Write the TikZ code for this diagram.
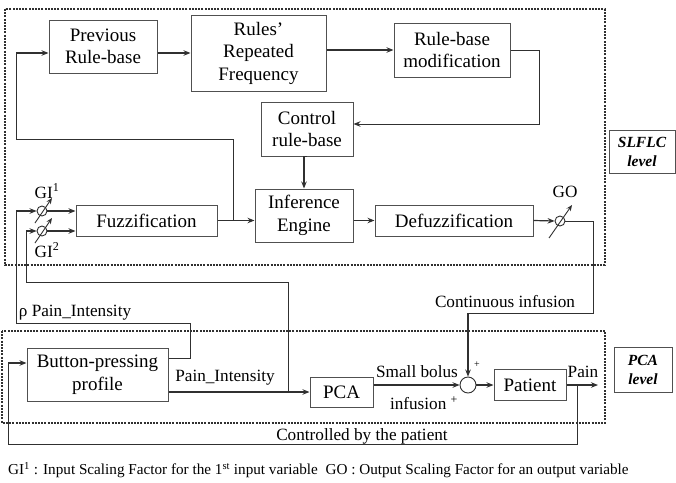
\documentclass[tikz,border=0pt]{standalone}
\usepackage{fontspec}
\setmainfont{Liberation Serif}
\usetikzlibrary{arrows.meta}
\definecolor{boxc}{HTML}{505050}
\definecolor{linec}{HTML}{303030}
\begin{document}
\begin{tikzpicture}[x=1pt,y=-1pt,
  blk/.style={draw=boxc, line width=1pt, align=center, inner sep=0pt, font=\fontsize{19}{22.5}\selectfont},
  lvl/.style={draw=boxc, line width=1pt, align=center, inner sep=0pt, font=\fontsize{15.5}{19}\selectfont\bfseries\itshape},
  ln/.style={draw=linec, line width=1.2pt},
  thn/.style={draw=linec, line width=0.9pt},
  arr/.style={-{Stealth[length=7pt,width=5.5pt]}},
  dashbox/.style={draw=linec, line width=1.2pt, dash pattern=on 2pt off 1.2pt},
  gain/.style={circle, draw=linec, line width=0.9pt, minimum size=10pt, inner sep=0pt},
  lbl/.style={inner sep=0pt, font=\fontsize{17.2}{20}\selectfont},
  sml/.style={inner sep=0pt, font=\fontsize{10}{12}\selectfont}
]
\useasboundingbox (0,0) rectangle (676,482);
\fill[white] (0,0) rectangle (676,482);

% dashed level boxes
\draw[dashbox] (5,9) rectangle (605,265);
\draw[dashbox] (2,331) rectangle (605,423);

% blocks
\node[blk, minimum width=108pt, minimum height=53pt] (prev) at (103,46.5) {Previous\\Rule-base};
\node[blk, minimum width=135pt, minimum height=76pt] (rrf) at (258.5,53) {Rules’\\Repeated\\Frequency};
\node[blk, minimum width=116pt, minimum height=54pt] (rbm) at (452,50) {Rule-base\\modification};
\node[blk, minimum width=92pt, minimum height=54pt] (crb) at (307,129) {Control\\rule-base};
\node[blk, minimum width=98pt, minimum height=53pt] (inf) at (304,215.5) {Inference\\Engine};
\node[blk, minimum width=141pt, minimum height=31pt] (fuzz) at (146.5,220.5) {Fuzzification};
\node[blk, minimum width=158pt, minimum height=31pt] (defuzz) at (454,220.5) {Defuzzification};
\node[lvl, minimum width=66pt, minimum height=43pt] (slflc) at (642,151.5) {SLFLC\\level};

\node[blk, minimum width=141pt, minimum height=53pt] (button) at (97.5,374.5) {Button-pressing\\profile};
\node[blk, minimum width=63pt, minimum height=30pt] (pca) at (341.5,392) {PCA};
\node[blk, minimum width=72pt, minimum height=31pt] (patient) at (530,385) {Patient};
\node[lvl, minimum width=58pt, minimum height=45pt] (pcalvl) at (643,369.5) {PCA\\level};

% gains and summing point
\node[gain] (gi1) at (42,211) {};
\node[gain] (gi2) at (42,231) {};
\node[gain] (go) at (560,221) {};
\node[circle, draw=linec, line width=0.9pt, minimum size=16pt, inner sep=0pt] (sum) at (468,385) {};

\draw[thn, -{Stealth[length=6pt,width=5pt]}] ([shift={(-7,12)}]gi1.center) -- ([shift={(10,-13)}]gi1.center);
\draw[thn, -{Stealth[length=6pt,width=5pt]}] ([shift={(-7,12)}]gi2.center) -- ([shift={(10,-13)}]gi2.center);
\draw[thn, -{Stealth[length=6pt,width=5pt]}] ([shift={(-11,17)}]go.center) -- ([shift={(12,-16)}]go.center);

\node[lbl] (lgi1) at (47,191) {GI\textsuperscript{1}};
\node[lbl] (lgi2) at (47,250) {GI\textsuperscript{2}};
\node[lbl] (lgo) at (565,192) {GO};

% top connectors
\draw[ln, arr] (prev.east |- rrf.west) -- (rrf.west);
\draw[ln, arr] (rrf.east |- rbm.west) -- (rbm.west);
\draw[thn, arr] (rbm.east) -- (539,50) -- (539,124) -- (crb.east |- 539,124);
\draw[ln, arr] (crb.south) -- (inf.north |- crb.south) -- (inf.north);
\draw[ln, arr] (fuzz.east) -- (inf.west |- fuzz.east);
\draw[ln, arr] (inf.east |- defuzz.west) -- (defuzz.west);
\draw[ln, arr] (defuzz.east) -- (go.west);
\coordinate (br) at (233,220.5);
\draw[thn] (br) -- (233,139) -- (16,139) -- (16,53);
\draw[ln, arr] (16,53) -- (prev.west |- 16,53);

% gain inputs
\draw[ln, arr] (gi1.east) -- (fuzz.west |- gi1.east);
\draw[ln, arr] (gi2.east) -- (fuzz.west |- gi2.east);
\draw[thn] (button.east |- 190,358) -- (190,358) -- (190,323) -- (16,323) -- (16,211);
\draw[ln, arr] (16,211) -- (gi1.west);
\coordinate (br2) at (288,392);
\draw[thn] (br2) -- (288,282) -- (26,282) -- (26,231);
\draw[ln, arr] (26,231) -- (gi2.west);

% PCA level connectors
\draw[ln, arr] (button.east |- pca.west) -- (pca.west);
\draw[ln, arr] (pca.east |- sum.west) -- (sum.west);
\draw[ln, arr] (sum.east) -- (patient.west);
\coordinate (pout) at (598,385);
\draw[ln, arr] (patient.east) -- (pout);
\draw[thn] (go.east) -- (593,221) -- (593,313) -- (468,313);
\draw[ln, arr] (468,313) -- (sum.north);
\draw[thn] (577,385) -- (577,444) -- (8,444) -- (8,363);
\draw[ln, arr] (8,363) -- (button.west |- 8,363);

% labels
\node[lbl] (l1) at (75,313) {ρ Pain\_Intensity};
\node[lbl] (l2) at (225,378) {Pain\_Intensity};
\node[lbl] (l3) at (417,372) {Small bolus};
\node[lbl] (l4) at (424,403) {infusion \textsuperscript{+}};
\node[sml] (l5) at (477,365) {+};
\node[lbl] (l6) at (583,372) {Pain};
\node[lbl] (l7) at (505,302) {Continuous infusion};
\node[lbl] (l8) at (362,436) {Controlled by the patient};
\node[anchor=west, inner sep=0pt, font=\fontsize{15.2}{18}\selectfont] (foot) at (8,470) {GI\textsuperscript{1} : Input Scaling Factor for the 1\textsuperscript{st} input variable\ \ GO : Output Scaling Factor for an output variable};
\end{tikzpicture}
\end{document}
